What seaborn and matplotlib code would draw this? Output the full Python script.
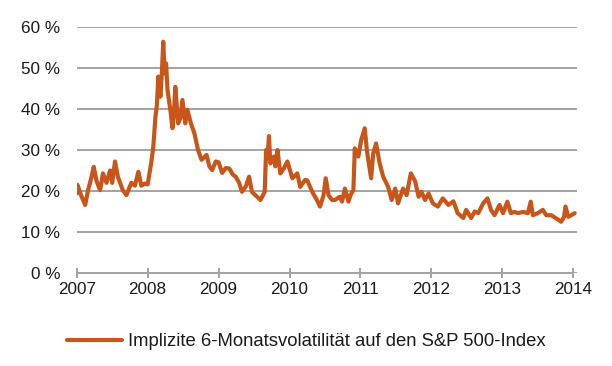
import matplotlib
matplotlib.use("Agg")
import matplotlib.pyplot as plt
import seaborn as sns
import pandas as pd

# Decimal years and implied 6-month volatility (%)
years = [
    2007.00, 2007.01, 2007.04, 2007.07, 2007.12, 2007.16, 2007.21, 2007.24, 2007.28, 2007.33,
    2007.37, 2007.42, 2007.47, 2007.50, 2007.54, 2007.58, 2007.65, 2007.70, 2007.77, 2007.82,
    2007.87, 2007.91, 2007.96, 2008.00, 2008.05, 2008.08, 2008.11, 2008.13, 2008.15, 2008.18,
    2008.20, 2008.22, 2008.24, 2008.26, 2008.28, 2008.32, 2008.35, 2008.37, 2008.39, 2008.43,
    2008.46, 2008.49, 2008.53, 2008.56, 2008.61, 2008.66, 2008.71, 2008.76, 2008.83, 2008.87,
    2008.91, 2008.96, 2009.00, 2009.05, 2009.10, 2009.15, 2009.20, 2009.24, 2009.29, 2009.33,
    2009.38, 2009.43, 2009.47, 2009.53, 2009.59, 2009.65, 2009.67, 2009.69, 2009.71, 2009.73,
    2009.78, 2009.80, 2009.83, 2009.87, 2009.92, 2009.97, 2010.04, 2010.11, 2010.15, 2010.22,
    2010.25, 2010.32, 2010.38, 2010.43, 2010.48, 2010.51, 2010.55, 2010.60, 2010.64, 2010.71,
    2010.74, 2010.78, 2010.83, 2010.86, 2010.90, 2010.92, 2010.97, 2011.01, 2011.06, 2011.09,
    2011.11, 2011.15, 2011.18, 2011.22, 2011.27, 2011.32, 2011.39, 2011.44, 2011.49, 2011.53,
    2011.60, 2011.65, 2011.71, 2011.77, 2011.82, 2011.86, 2011.91, 2011.96, 2012.02, 2012.09,
    2012.16, 2012.24, 2012.31, 2012.37, 2012.45, 2012.49, 2012.52, 2012.56, 2012.61, 2012.66,
    2012.73, 2012.79, 2012.84, 2012.89, 2012.96, 2013.01, 2013.07, 2013.12, 2013.17, 2013.22,
    2013.29, 2013.36, 2013.40, 2013.43, 2013.50, 2013.57, 2013.62, 2013.69, 2013.76, 2013.83,
    2013.87, 2013.89, 2013.93, 2014.02,
]
volatility = [
    19.4, 21.5, 20.0, 18.6, 16.6, 20.2, 23.5, 25.9, 22.4, 20.2,
    24.3, 22.0, 25.0, 22.0, 27.2, 23.5, 20.2, 19.0, 22.0, 21.3,
    24.7, 21.3, 21.8, 21.6, 26.8, 30.8, 38.1, 40.9, 47.9, 43.0,
    48.7, 56.4, 48.7, 51.1, 44.6, 39.8, 35.3, 38.9, 45.4, 36.5,
    37.7, 42.2, 36.5, 39.8, 36.5, 34.0, 30.0, 27.6, 28.8, 26.0,
    25.1, 27.2, 27.0, 24.4, 25.6, 25.5, 24.0, 23.5, 22.0, 19.8,
    21.0, 23.5, 19.8, 18.8, 17.8, 19.8, 30.0, 28.0, 33.4, 26.7,
    28.4, 26.0, 30.0, 24.3, 25.5, 27.2, 23.1, 24.3, 21.0, 22.7,
    22.6, 19.8, 18.0, 16.2, 19.0, 23.1, 19.0, 17.8, 17.8, 18.6,
    17.4, 20.6, 17.4, 19.0, 20.2, 30.4, 28.4, 32.4, 35.3, 30.0,
    27.6, 23.1, 29.2, 31.6, 26.8, 23.5, 21.0, 17.8, 20.6, 17.0,
    20.6, 19.0, 24.3, 22.4, 18.6, 19.8, 17.8, 19.4, 17.0, 16.2,
    18.2, 16.6, 17.5, 14.6, 13.4, 15.4, 14.6, 13.4, 15.0, 14.6,
    17.0, 18.2, 15.4, 14.1, 16.6, 14.6, 17.4, 14.6, 14.9, 14.6,
    14.9, 14.6, 17.4, 14.1, 14.6, 15.4, 14.1, 14.1, 13.3, 12.5,
    13.7, 16.2, 13.7, 14.6,
]
year_ticks = [2007, 2008, 2009, 2010, 2011, 2012, 2013, 2014]
year_labels = ["2007", "2008", "2009", "2010", "2011", "2012", "2013", "2014"]
pct_ticks = [0, 10, 20, 30, 40, 50, 60]
pct_labels = ["0 %", "10 %", "20 %", "30 %", "40 %", "50 %", "60 %"]
series_label = "Implizite 6-Monatsvolatilität auf den S&P 500-Index"

df = pd.DataFrame({"Jahr": years, "Volatilität": volatility})

sns.set_theme(style="white")
plt.rcParams["font.family"] = ["Liberation Sans", "DejaVu Sans"]

LINE = "#C8561A"
GRID = "#A3A3A3"
TXT = "#1a1a1a"

fig = plt.figure(figsize=(6.12, 3.66), dpi=100)
W, H = 612, 366
ax = fig.add_axes([76.7 / W, 1 - 273 / H, (576.7 - 76.7) / W, (273 - 27) / H])

sns.lineplot(data=df, x="Jahr", y="Volatilität", ax=ax, color=LINE,
             linewidth=3.0, label=series_label, legend=False, solid_joinstyle="round")

ax.set_xlim(2007, 2014.048)
ax.set_ylim(0, 60)
ax.set_xticks(year_ticks)
ax.set_xticklabels(year_labels)
ax.set_yticks(pct_ticks)
ax.set_yticklabels(pct_labels)
ax.set_xlabel("")
ax.set_ylabel("")

ax.grid(axis="y", color=GRID, linewidth=1.4)
ax.grid(axis="x", visible=False)
ax.set_axisbelow(True)
for s in ["top", "right", "left"]:
    ax.spines[s].set_visible(False)
ax.spines["bottom"].set_color(GRID)
ax.spines["bottom"].set_linewidth(1.4)
ax.spines["bottom"].set_bounds(2007, 2014)

ax.tick_params(axis="x", direction="inout", length=7, width=1.4, color=GRID,
               labelsize=12.3, labelcolor=TXT, pad=3, bottom=True)
ax.tick_params(axis="y", length=0, labelsize=12.3, labelcolor=TXT, pad=12, left=False)

handles, labels = ax.get_legend_handles_labels()
fig.legend(handles, labels, loc="center left", bbox_to_anchor=(67 / W, 1 - 342 / H),
           bbox_transform=fig.transFigure, frameon=False, borderpad=0, borderaxespad=0,
           handlelength=3.0, handletextpad=0.3, fontsize=13.3, labelcolor=TXT)

fig.savefig("out.png", dpi=100)
